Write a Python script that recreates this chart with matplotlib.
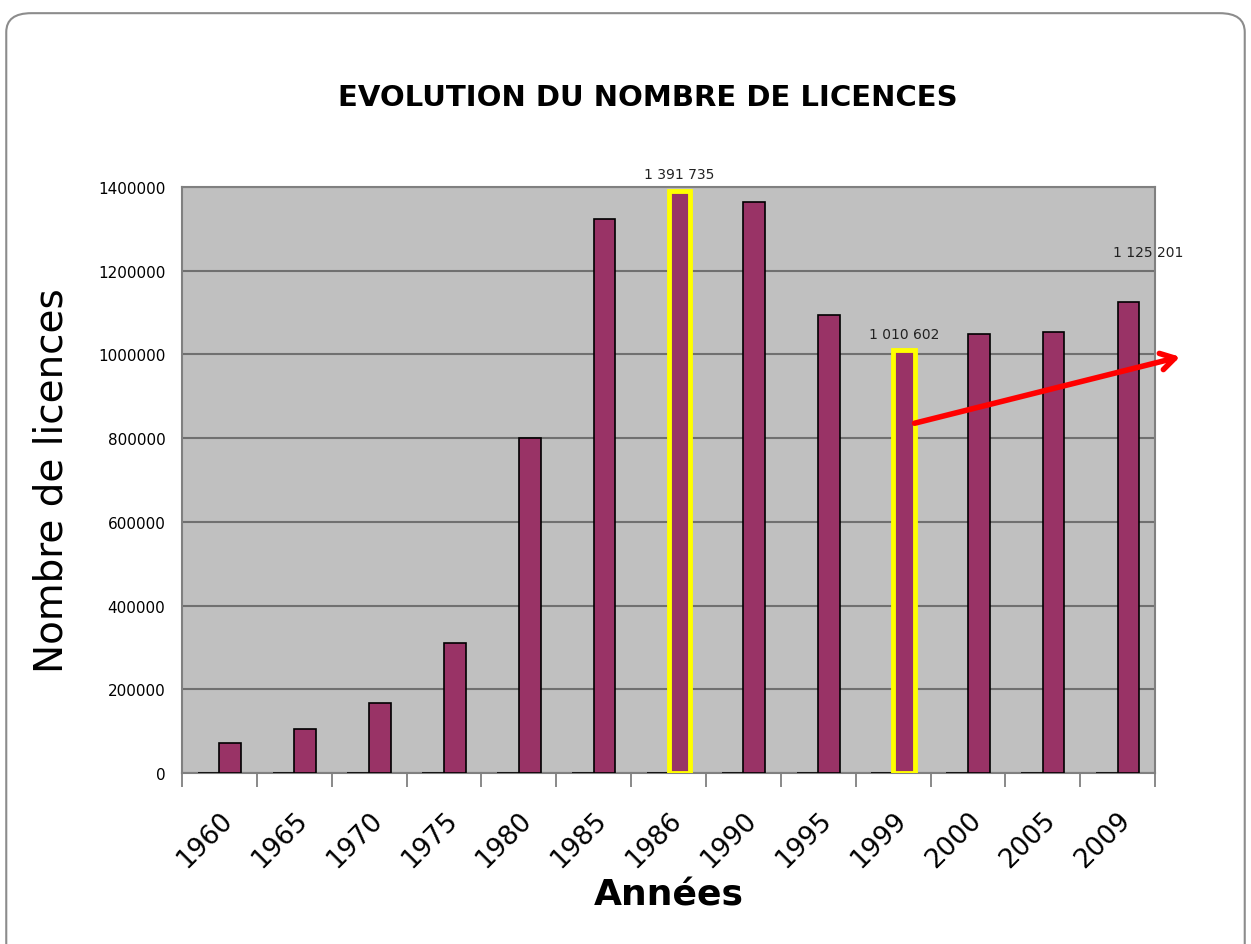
import matplotlib
matplotlib.use('Agg')
from matplotlib import pyplot as plt
from matplotlib.patches import FancyBboxPatch
import numpy as np

years = ['1960', '1965', '1970', '1975', '1980', '1985', '1986',
         '1990', '1995', '1999', '2000', '2005', '2009']
licences = [71000, 105000, 167000, 311000, 800000, 1323000, 1391735,
            1364000, 1094000, 1010602, 1049000, 1054000, 1125201]
empty_series = [0] * len(years)
highlighted = ['1986', '1999']
labelled = {'1986': '1 391 735', '1999': '1 010 602', '2009': '1 125 201'}
yticks = [0, 200000, 400000, 600000, 800000, 1000000, 1200000, 1400000]

# trend arrow, from the 1999 bar to the right edge (x in category units)
arrow_start = (9.25, 834000)
arrow_end = (12.87, 996000)

fig = plt.figure(figsize=(12.51, 9.45), dpi=100)

frame = FancyBboxPatch((0.005, -0.05), 0.99, 1.035,
                       boxstyle='round,pad=0,rounding_size=0.02',
                       transform=fig.transFigure, fill=False,
                       edgecolor='#8c8c8c', linewidth=1.5)
fig.patches.append(frame)

ax = fig.add_axes([0.1455, 0.181, 0.7778, 0.620])
ax.set_facecolor('#c0c0c0')

x = np.arange(len(years))
w = 0.29
ax.bar(x - w / 2, empty_series, w, color='#993366', edgecolor='black',
       linewidth=1.2, zorder=3)

edges = ['yellow' if y in highlighted else 'black' for y in years]
lws = [3.5 if y in highlighted else 1.2 for y in years]
ax.bar(x + w / 2, licences, w, color='#993366', edgecolor=edges,
       linewidth=lws, zorder=3)

for i, y in enumerate(years):
    if y in labelled:
        if y == '2009':
            ax.text(i + w / 2 + 0.27, 1228000, labelled[y], ha='center',
                    va='bottom', fontsize=10, color='#222222',
                    clip_on=False)
        else:
            ax.text(i + w / 2, licences[i] + 22000, labelled[y],
                    ha='center', va='bottom', fontsize=10,
                    color='#222222', clip_on=False)

ax.annotate('', xy=arrow_end, xytext=arrow_start, annotation_clip=False,
            arrowprops=dict(arrowstyle='->,head_length=1.0,head_width=0.6',
                            color='red', lw=4), zorder=5)

ax.set_xlim(-0.5, len(years) - 0.5)
ax.set_ylim(0, 1400000)
ax.set_yticks(yticks)
ax.set_yticklabels([str(v) for v in yticks], fontsize=11)
ax.tick_params(axis='y', length=0, pad=12)
ax.yaxis.grid(True, color='#707070', linewidth=1.5, zorder=0)
ax.set_axisbelow(True)

ax.set_xticks(np.arange(-0.5, len(years), 1.0))
ax.set_xticklabels([])
ax.set_xticks(x, minor=True)
ax.set_xticklabels(years, minor=True, rotation=45, fontsize=19,
                   ha='right', va='top', rotation_mode='anchor')
ax.tick_params(axis='x', which='major', length=10, width=1.3,
               color='#808080', direction='out')
ax.tick_params(axis='x', which='minor', length=0, pad=24)

for side in ['left', 'bottom', 'right', 'top']:
    ax.spines[side].set_color('#808080')
    ax.spines[side].set_linewidth(1.5)

ax.set_ylabel('Nombre de licences', fontsize=28, labelpad=20)
ax.set_xlabel('Années', fontsize=26, fontweight='bold', labelpad=4)

fig.text(0.518, 0.896, 'EVOLUTION DU NOMBRE DE LICENCES', ha='center',
         va='center', fontsize=21, fontweight='bold')

fig.savefig('out.png', dpi=100)
